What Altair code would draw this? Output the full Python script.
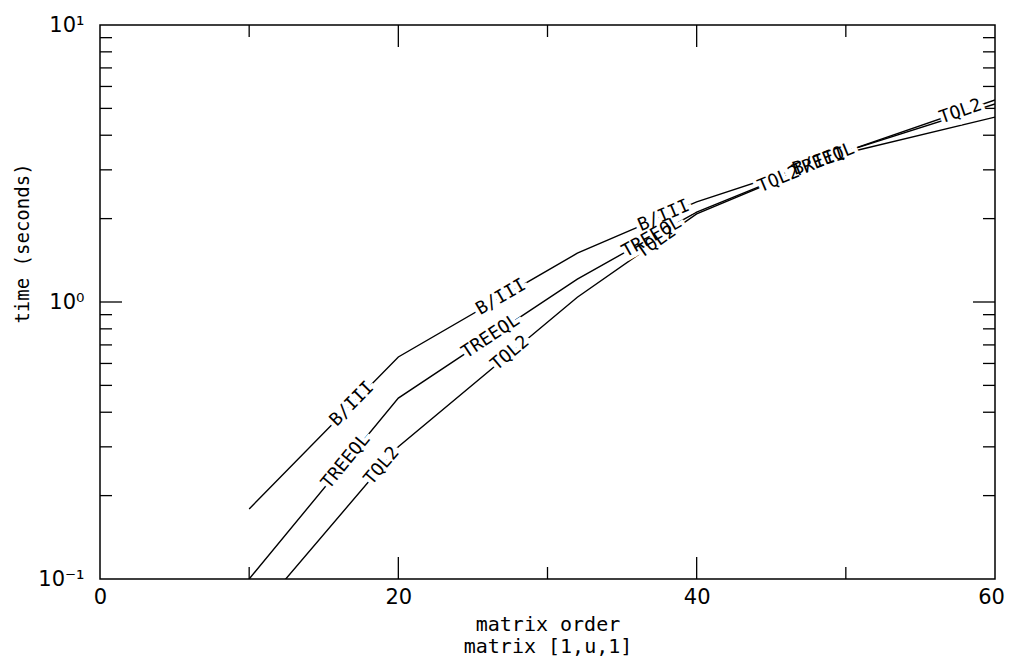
import altair as alt
import numpy as np
import pandas as pd

# ---- data ----
order = [10, 20, 32, 40, 50, 60]
b3 = [0.179, 0.633, 1.50, 2.30, 3.45, 4.65]
treeql = [0.100, 0.45, 1.21, 2.11, 3.50, 5.19]
tql2 = [0.070, 0.30, 1.04, 2.08, 3.50, 5.36]
series_names = ["B/III", "TREEQL", "TQL2"]

# inline label positions (matrix order along each curve)
lab_series = ["B/III"] * 4 + ["TREEQL"] * 4 + ["TQL2"] * 5
lab_x = [16.9, 26.9, 37.8, 48.2, 16.5, 26.2, 37.0, 48.5, 18.9, 27.5, 37.3, 45.5, 57.7]

x_major = [20, 40]
x_minor = [10, 30, 50]
y_major = [1.0]
y_minor = [0.2, 0.3, 0.4, 0.5, 0.6, 0.7, 0.8, 0.9, 2, 3, 4, 5, 6, 7, 8, 9]

W, H = 895, 554
MAJ, MIN = 22, 12

rows = []
for name, vals in zip(series_names, [b3, treeql, tql2]):
    for xv, yv in zip(order, vals):
        rows.append({"series": name, "x": xv, "y": yv})
df = pd.DataFrame(rows)

# label placement (position on the curve and its on-screen slope)
px_per_x = W / 60.0
px_per_dec = H / 2.0
series_vals = dict(zip(series_names, [b3, treeql, tql2]))
lrows = []
for s, xv in zip(lab_series, lab_x):
    ly = np.log10(series_vals[s])
    yl = float(np.interp(xv, order, ly))
    i = int(np.searchsorted(order, xv)) - 1
    i = max(0, min(i, len(order) - 2))
    dy = (ly[i + 1] - ly[i]) * px_per_dec
    dx = (order[i + 1] - order[i]) * px_per_x
    ang = np.degrees(np.arctan2(dy, dx))
    lrows.append({"series": s, "x": xv, "y": 10 ** yl, "ang": (360 - ang) % 360})
ldf = pd.DataFrame(lrows)

FONT = "DejaVu Sans"
MONO = "DejaVu Sans Mono"

xs = alt.Scale(domain=[0, 60], nice=False, zero=False)
ys = alt.Scale(type="log", domain=[0.1, 10], nice=False)

x_axis = alt.Axis(values=[0, 20, 40, 60], ticks=False, domain=False, grid=False,
                  labelFont=FONT, labelFontSize=21, labelPadding=7,
                  labelFlush=False, labelColor="black",
                  labelOffset={"condition": {"test": "datum.value == 60", "value": -4},
                               "value": 0},
                  title=["matrix order", "matrix [1,u,1]"], titleFont=MONO,
                  titleFontSize=20, titleFontWeight="normal", titlePadding=7,
                  titleLineHeight=22, titleColor="black")
y_axis = alt.Axis(values=[0.1, 1, 10], ticks=False, domain=False, grid=False,
                  labelFont=FONT, labelFontSize=21, labelPadding=16,
                  labelFlush=False, labelColor="black",
                  labelExpr="datum.value > 5 ? '10¹' : (datum.value > 0.5 ? '10⁰' : '10⁻¹')",
                  title="time (seconds)", titleFont=MONO, titleFontSize=19,
                  titleFontWeight="normal", titleColor="black",
                  titleX=-78, titleY=218, titleAngle=270, titleAlign="center",
                  titleBaseline="middle")

X = alt.X("x:Q", scale=xs, axis=x_axis)
Y = alt.Y("y:Q", scale=ys, axis=y_axis)

lines = alt.Chart(df).mark_line(color="black", strokeWidth=1.4, clip=True).encode(
    x=X, y=Y, detail="series:N")

mask = alt.Chart(ldf).mark_text(font=MONO, fontSize=18, color="white", stroke="white",
                                strokeWidth=8, align="center", baseline="middle").encode(
    x=X, y=Y, text="series:N", angle=alt.Angle("ang:Q", scale=None))
labels = alt.Chart(ldf).mark_text(font=MONO, fontSize=18, color="black",
                                  align="center", baseline="middle").encode(
    x=X, y=Y, text="series:N", angle=alt.Angle("ang:Q", scale=None))

xmaj = pd.DataFrame({"x": x_major})
xmin = pd.DataFrame({"x": x_minor})
ymaj = pd.DataFrame({"y": y_major})
ymin = pd.DataFrame({"y": y_minor})

tick_layers = []
for d, L in [(xmaj, MAJ), (xmin, MIN)]:
    tick_layers.append(alt.Chart(d).mark_rule(color="black", strokeWidth=1.3).encode(
        x=X, y=alt.value(H), y2=alt.value(H - L)))
    tick_layers.append(alt.Chart(d).mark_rule(color="black", strokeWidth=1.3).encode(
        x=X, y=alt.value(0), y2=alt.value(L)))
for d, L in [(ymaj, MAJ), (ymin, MIN)]:
    tick_layers.append(alt.Chart(d).mark_rule(color="black", strokeWidth=1.3).encode(
        y=Y, x=alt.value(0), x2=alt.value(L)))
    tick_layers.append(alt.Chart(d).mark_rule(color="black", strokeWidth=1.3).encode(
        y=Y, x=alt.value(W), x2=alt.value(W - L)))

chart = alt.layer(lines, *tick_layers, mask, labels).properties(
    width=W, height=H,
    padding={"left": 92, "top": 17, "right": 10, "bottom": 78},
    autosize=alt.AutoSizeParams(type="none"),
    background="white",
).configure_view(stroke="black", strokeWidth=1.5)

chart.save("out.html", embed_options={"renderer": "svg", "actions": False})
